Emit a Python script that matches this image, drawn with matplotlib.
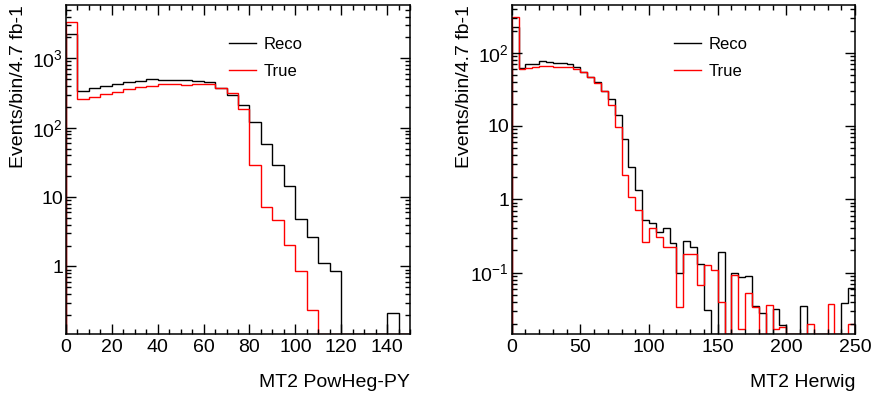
import numpy as np
import matplotlib
matplotlib.use("Agg")
import matplotlib.pyplot as plt
from matplotlib.ticker import LogLocator, MultipleLocator, NullFormatter

plt.rcParams['font.family'] = ['Liberation Sans', 'DejaVu Sans']
plt.rcParams['mathtext.fontset'] = 'custom'
plt.rcParams['mathtext.rm'] = 'Liberation Sans'
plt.rcParams['mathtext.it'] = 'Liberation Sans:italic'

# left panel: MT2 PowHeg-PY, 5 GeV bins 0-150
pow_edges = np.arange(0, 155, 5)
pow_reco = [2220, 338, 378, 403, 427, 461, 471, 498, 492, 492,
            482, 476, 451, 378, 293, 212, 121, 58, 29.3, 14.6,
            4.8, 2.65, 1.12, 0.86, 0, 0, 0, 0, 0.21, 0]
pow_true = [3300, 259, 280, 303, 324, 357, 382, 403, 422, 431,
            412, 427, 427, 373, 313, 184, 29.3, 7.3, 4.6, 2.05,
            0.85, 0.232, 0, 0, 0, 0, 0, 0, 0, 0]

# right panel: MT2 Herwig, 5 GeV bins 0-250
her_edges = np.arange(0, 255, 5)
her_reco = [222, 61, 69.5, 70, 78, 75, 72, 72, 69.5, 64,
            55, 47, 40, 30, 23, 14.1, 6.7, 2.74, 1.34, 0.52,
            0.48, 0.36, 0.40, 0.25, 0.10, 0.27, 0.22, 0.13, 0.031, 0,
            0.19, 0, 0.098, 0.088, 0.091, 0.035, 0.028, 0, 0.032, 0.019,
            0, 0, 0.035, 0, 0, 0, 0, 0, 0.038, 0.061]
her_true = [304, 59, 61, 64, 66.5, 66, 64, 64, 63, 59,
            55, 47, 39, 30, 19.3, 9.6, 2.14, 1.06, 0.71, 0.26,
            0.40, 0.31, 0.22, 0.22, 0.034, 0.18, 0.18, 0.068, 0.125, 0.11,
            0.040, 0, 0.092, 0.017, 0.052, 0.034, 0, 0.036, 0.017, 0.018,
            0, 0, 0, 0.020, 0, 0, 0.037, 0, 0, 0.020]

panels = [
    dict(edges=pow_edges, reco=pow_reco, true=pow_true, xlabel="MT2 PowHeg-PY",
         ylim=(0.106, 5870), xmajor=20, xminor=5,
         yticks=[1, 10, 100, 1000],
         ylabels=["1", "10", r"$\mathregular{10^{2}}$", r"$\mathregular{10^{3}}$"],
         rect=[66 / 873, 65 / 399, 344 / 873, 329 / 399]),
    dict(edges=her_edges, reco=her_reco, true=her_true, xlabel="MT2 Herwig",
         ylim=(0.0145, 447), xmajor=50, xminor=10,
         yticks=[0.1, 1, 10, 100],
         ylabels=[r"$\mathregular{10^{-1}}$", "1", "10", r"$\mathregular{10^{2}}$"],
         rect=[511.7 / 873, 65 / 399, 343.3 / 873, 329 / 399]),
]

fig = plt.figure(figsize=(8.73, 3.99), dpi=100)

for p in panels:
    ax = fig.add_axes(p["rect"])
    ax.set_yscale("log")
    ymin = p["ylim"][0]
    # empty bins are drawn on the bottom of the frame, as ROOT does
    reco = np.where(np.array(p["reco"]) > 0, p["reco"], ymin)
    true = np.where(np.array(p["true"]) > 0, p["true"], ymin)
    ax.stairs(reco, p["edges"], color="black", lw=1.0, label="Reco")
    ax.stairs(true, p["edges"], color="red", lw=1.0, label="True")

    ax.set_xlim(p["edges"][0], p["edges"][-1])
    ax.set_ylim(*p["ylim"])
    ax.xaxis.set_major_locator(MultipleLocator(p["xmajor"]))
    ax.xaxis.set_minor_locator(MultipleLocator(p["xminor"]))
    ax.set_yticks(p["yticks"], labels=p["ylabels"])
    ax.yaxis.set_minor_locator(LogLocator(base=10, subs=np.arange(2, 10)))
    ax.yaxis.set_minor_formatter(NullFormatter())
    ax.tick_params(which="both", direction="in", top=True, right=True,
                   labelsize=14, width=1.0)
    ax.tick_params(axis="x", pad=3.5)
    ax.tick_params(axis="y", pad=2)
    ax.tick_params(which="major", length=7)
    ax.tick_params(which="minor", length=3.6)
    for s in ax.spines.values():
        s.set_linewidth(1.1)

    ax.set_xlabel(p["xlabel"], fontsize=14, loc="right", labelpad=13)
    ax.set_ylabel("Events/bin/4.7 fb-1", fontsize=14, loc="top")
    ax.yaxis.set_label_coords(-0.113, 1.0)

    ax.legend(loc="upper left", bbox_to_anchor=(0.474, 0.903), frameon=False,
              fontsize=12, handlelength=1.6, handletextpad=0.45,
              labelspacing=0.74, borderpad=0, borderaxespad=0)

fig.savefig("out.png", dpi=100)
